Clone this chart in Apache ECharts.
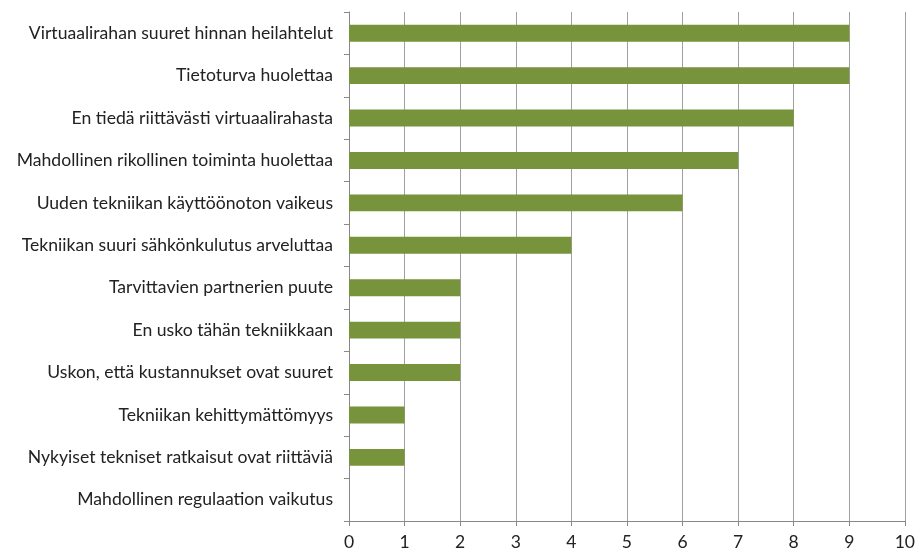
<!DOCTYPE html>
<html>
<head>
<meta charset="utf-8">
<script src="https://cdn.jsdelivr.net/npm/echarts@6/dist/echarts.min.js"></script>
<style>
  html, body { margin: 0; padding: 0; background: #fff; }
  #chart { width: 918px; height: 553px; }
</style>
</head>
<body>
<div id="chart"></div>
<script>
// categories top to bottom
const categories = [
  'Virtuaalirahan suuret hinnan heilahtelut',
  'Tietoturva huolettaa',
  'En tiedä riittävästi virtuaalirahasta',
  'Mahdollinen rikollinen toiminta huolettaa',
  'Uuden tekniikan käyttöönoton vaikeus',
  'Tekniikan suuri sähkönkulutus arveluttaa',
  'Tarvittavien partnerien puute',
  'En usko tähän tekniikkaan',
  'Uskon, että kustannukset ovat suuret',
  'Tekniikan kehittymättömyys',
  'Nykyiset tekniset ratkaisut ovat riittäviä',
  'Mahdollinen regulaation vaikutus'
]
const values = [9, 9, 8, 7, 6, 4, 2, 2, 2, 1, 1, 0]

const chart = echarts.init(document.getElementById('chart'))
const font = "Lato, 'Open Sans', sans-serif"

chart.setOption({
  animation: false,
  grid: { left: 349, right: 9, top: 12, bottom: 32, containLabel: false },
  xAxis: {
    type: 'value',
    min: 0,
    max: 10,
    interval: 1,
    axisLine: { show: true, lineStyle: { color: '#888', width: 1 } },
    axisTick: { show: true, length: 5, lineStyle: { color: '#888' } },
    axisLabel: { color: '#222', fontSize: 17.5, fontFamily: font, margin: 12 },
    splitLine: { show: true, lineStyle: { color: '#a0a0a0', width: 1 } }
  },
  yAxis: {
    type: 'category',
    inverse: true,
    data: categories,
    axisLine: { show: true, lineStyle: { color: '#888', width: 1 } },
    axisTick: { show: true, length: 5, lineStyle: { color: '#888' } },
    axisLabel: { color: '#222', fontSize: 17.6, fontFamily: font, margin: 16 }
  },
  series: [{
    type: 'bar',
    data: values,
    barCategoryGap: '60%',
    itemStyle: { color: '#77933C' }
  }]
})
</script>
</body>
</html>
